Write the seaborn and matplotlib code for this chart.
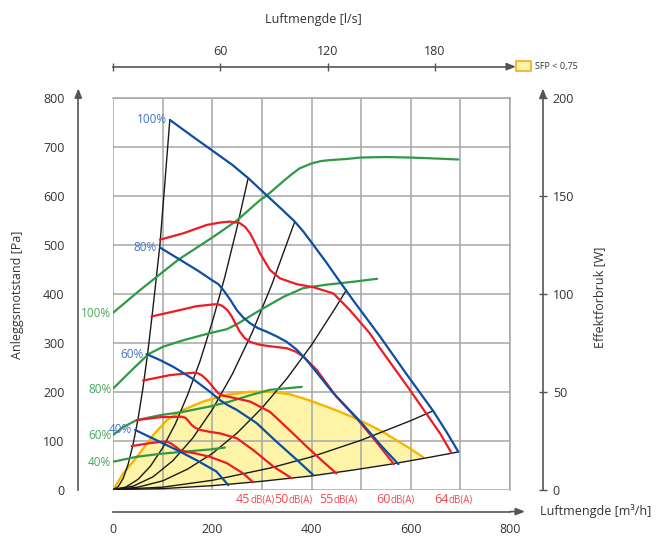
import numpy as np
import pandas as pd
import seaborn as sns
import matplotlib.pyplot as plt
from matplotlib.ticker import MultipleLocator, FixedLocator
from matplotlib.transforms import ScaledTranslation
from matplotlib.patches import Patch

# -------------------------------
# Data (x = m3/h, y = Pa)
# -------------------------------
# fan curves (blue) at 100/80/60/40 %
fan100_x = [114, 160, 200, 240, 272, 309, 340, 366, 383, 400, 430, 457, 483, 538, 590, 645, 672, 696]
fan100_y = [756, 722, 693, 664, 637, 602, 573, 548, 528, 505, 464, 425, 388, 313, 238, 161, 118, 77]
fan80_x = [94, 120, 141, 170, 198, 212, 222, 236, 249, 262, 276, 292, 309, 330, 350, 370, 390, 443, 501, 540, 575]
fan80_y = [495, 479, 466, 448, 429, 420, 408, 388, 367, 352, 340, 330, 323, 313, 302, 286, 265, 198, 136, 90, 52]
fan60_x = [67, 94, 121, 161, 195, 215, 232, 249, 289, 329, 370, 403]
fan60_y = [277, 265, 251, 226, 200, 183, 172, 163, 136, 98, 61, 30]
fan40_x = [44, 87, 128, 168, 208, 232]
fan40_y = [122, 101, 81, 60, 37, 9]
fan_labels = ["100%", "80%", "60%", "40%"]

# sound level curves (red)
snd64_x = [94, 141, 188, 215, 235, 255, 266, 276, 286, 296, 316, 336, 370, 403, 444, 477, 517, 535, 598, 659, 682]
snd64_y = [511, 524, 541, 546, 548, 545, 537, 524, 504, 483, 449, 432, 420, 414, 401, 367, 320, 293, 204, 115, 75]
snd60_x = [77, 121, 168, 205, 215, 222, 231, 239, 247, 255, 265, 276, 292, 309, 350, 368, 383, 410, 450, 494, 530, 566]
snd60_y = [354, 364, 375, 379, 378, 374, 366, 354, 338, 323, 310, 302, 297, 294, 289, 282, 272, 245, 190, 142, 98, 52]
snd55_x = [60, 114, 161, 170, 178, 187, 195, 204, 212, 222, 232, 276, 316, 356, 390, 420, 450]
snd55_y = [223, 234, 239, 238, 234, 226, 217, 206, 197, 192, 190, 180, 159, 121, 88, 60, 33]
snd50_x = [47, 94, 138, 145, 151, 158, 166, 175, 195, 215, 249, 282, 323, 360]
snd50_y = [142, 148, 149, 147, 141, 132, 126, 122, 118, 115, 105, 81, 47, 23]
snd45_x = [37, 74, 100, 108, 115, 121, 128, 134, 147, 161, 195, 229, 262, 282]
snd45_y = [89, 95, 98, 98, 95, 91, 86, 81, 77, 75, 67, 54, 33, 15]
snd_labels = ["64", "60", "55", "50", "45"]

# power curves (green), plotted on the Pa scale (200 W = 800 Pa)
pow100_x = [0, 54, 131, 202, 249, 296, 309, 340, 360, 376, 400, 420, 440, 470, 499, 550, 598, 650, 696]
pow100_y = [362, 408, 470, 517, 550, 592, 601, 628, 645, 657, 667, 672, 674, 676, 679, 680, 679, 677, 675]
pow80_x = [0, 40, 71, 100, 140, 195, 229, 249, 296, 343, 383, 430, 484, 532]
pow80_y = [207, 247, 277, 292, 305, 320, 328, 338, 367, 394, 412, 419, 425, 431]
pow60_x = [0, 20, 47, 94, 141, 195, 235, 276, 316, 380]
pow60_y = [112, 128, 142, 152, 159, 170, 180, 193, 204, 210]
pow40_x = [0, 47, 94, 148, 195, 225]
pow40_y = [57, 67, 73, 78, 82, 86]

# system curves (black)
sys1_x = [0, 10, 20, 30, 40, 50, 60, 70, 80, 94, 104, 114]
sys1_y = [0, 6, 23, 52, 93, 145, 209, 284, 371, 500, 627, 756]
sys2_x = [0, 25, 50, 75, 100, 125, 150, 175, 200, 225, 250, 272]
sys2_y = [0, 5, 21, 48, 86, 134, 194, 263, 344, 435, 538, 637]
sys3_x = [0, 40, 80, 120, 160, 200, 240, 280, 320, 366]
sys3_y = [0, 7, 26, 59, 105, 164, 236, 321, 420, 548]
sys4_x = [0, 50, 100, 150, 200, 250, 300, 350, 400, 447, 470]
sys4_y = [0, 5, 18, 42, 74, 116, 167, 227, 296, 370, 408]
sys5_x = [0, 100, 200, 316, 400, 500, 600, 645]
sys5_y = [0, 5, 19, 44, 67, 101, 141, 161]
sys6_x = [0, 100, 200, 300, 400, 484, 560, 638, 696]
sys6_y = [0, 2, 8, 17, 28, 40, 52, 66, 77]

# SFP < 0,75 area: upper edge, lower edge is sys6
sfp_x = [0, 20, 47, 81, 108, 141, 181, 229, 276, 316, 356, 397, 450, 497, 540, 571, 600, 625]
sfp_y = [0, 33, 66, 112, 142, 163, 180, 194, 200, 200, 195, 182, 162, 142, 120, 101, 83, 66]

# -------------------------------
# Styling
# -------------------------------
sns.set_theme(style="white")
plt.rcParams['font.family'] = ['Open Sans', 'DejaVu Sans']

BLUE, RED, GREEN, BLACK = "#0d4ea3", "#ec1c24", "#2f9a46", "#1a1a1a"
BLUE_T, RED_T, GREEN_T = "#3f74c2", "#ef4a50", "#4aa85c"
GRID, AXC, TXT = "#a6a6a6", "#555555", "#333333"
DPI = 100

fig = plt.figure(figsize=(6.56, 5.36), dpi=DPI)
ax = fig.add_axes([0.1727, 0.0866, 0.6047, 0.7299])
ax.set_xlim(0, 800)
ax.set_ylim(0, 800)

# SFP area
poly_x = sfp_x + [x for x in sys6_x[::-1] if x < sfp_x[-1]]
poly_y = sfp_y + [y for x, y in zip(sys6_x[::-1], sys6_y[::-1]) if x < sfp_x[-1]]
ax.fill(poly_x, poly_y, color="#fdf4a8", lw=0, zorder=1)
sns.lineplot(x=sfp_x, y=sfp_y, ax=ax, color="#f7b500", lw=1.7, sort=False, estimator=None, zorder=2,
             solid_joinstyle='round')

def draw(xs, ys, color, lw):
    sns.lineplot(x=xs, y=ys, ax=ax, color=color, lw=lw, sort=False, estimator=None, zorder=3,
                 solid_joinstyle='round', solid_capstyle='round')

for xs, ys in [(sys1_x, sys1_y), (sys2_x, sys2_y), (sys3_x, sys3_y),
               (sys4_x, sys4_y), (sys5_x, sys5_y), (sys6_x, sys6_y)]:
    draw(xs, ys, BLACK, 1.0)

pow_curves = [(pow100_x, pow100_y), (pow80_x, pow80_y), (pow60_x, pow60_y), (pow40_x, pow40_y)]
for (xs, ys), lbl in zip(pow_curves, fan_labels):
    draw(xs, ys, GREEN, 1.6)
    ax.annotate(lbl, xy=(xs[0], ys[0]), xytext=(-2, -1), textcoords='offset pixels',
                ha='right', va='center', color=GREEN_T, fontsize=8.5, annotation_clip=False)

snd_curves = [(snd64_x, snd64_y), (snd60_x, snd60_y), (snd55_x, snd55_y), (snd50_x, snd50_y), (snd45_x, snd45_y)]
for (xs, ys), lbl in zip(snd_curves, snd_labels):
    draw(xs, ys, RED, 1.6)
    ax.annotate(lbl, xy=(xs[-1], 0), xytext=(-3, -13), textcoords='offset pixels',
                ha='right', va='baseline', color=RED_T, fontsize=9, annotation_clip=False)
    ax.annotate("dB(A)", xy=(xs[-1], 0), xytext=(-3, -13), textcoords='offset pixels',
                ha='left', va='baseline', color=RED_T, fontsize=7, annotation_clip=False)

fan_curves = [(fan100_x, fan100_y), (fan80_x, fan80_y), (fan60_x, fan60_y), (fan40_x, fan40_y)]
for (xs, ys), lbl in zip(fan_curves, fan_labels):
    draw(xs, ys, BLUE, 1.6)
    ax.annotate(lbl, xy=(xs[0], ys[0]), xytext=(-3, 0), textcoords='offset pixels',
                ha='right', va='center', color=BLUE_T, fontsize=8.5, annotation_clip=False)

# grid and axes
ax.xaxis.set_major_locator(MultipleLocator(200))
ax.xaxis.set_minor_locator(MultipleLocator(100))
ax.yaxis.set_major_locator(MultipleLocator(100))
ax.set_axisbelow('line')
ax.grid(which='both', color=GRID, lw=1.1)
for s in ['top', 'right']:
    ax.spines[s].set_color(GRID)
    ax.spines[s].set_linewidth(1.1)
ax.spines['left'].set_position(('outward', 35 * 72 / DPI))
ax.spines['bottom'].set_position(('outward', 22 * 72 / DPI))
for s in ['left', 'bottom']:
    ax.spines[s].set_color(AXC)
    ax.spines[s].set_linewidth(1.2)
ax.tick_params(axis='both', which='major', direction='inout', length=6, width=1, color=AXC,
               labelsize=9, labelcolor=TXT)
ax.tick_params(axis='x', which='major', pad=5)
ax.tick_params(axis='y', which='major', pad=7)
ax.tick_params(axis='x', which='minor', length=0)
ax.set_xlabel("")
ax.set_ylabel("")

# right axis: power in W
sec_r = ax.secondary_yaxis(1 + 33 / 396.7, functions=(lambda p: p / 4, lambda w: w * 4))
sec_r.yaxis.set_major_locator(FixedLocator([0, 50, 100, 150, 200]))
sec_r.spines['right'].set_color(AXC)
sec_r.spines['right'].set_linewidth(1.2)
sec_r.tick_params(direction='inout', length=6, width=1, color=AXC, labelsize=9, labelcolor=TXT, pad=4)

# top axis: airflow in l/s
sec_t = ax.secondary_xaxis(1 + 31.7 / 391.2, functions=(lambda x: x / 3.6, lambda v: v * 3.6))
sec_t.xaxis.set_major_locator(FixedLocator([0, 60, 120, 180]))
sec_t.set_xticklabels(['', '60', '120', '180'])
sec_t.spines['top'].set_color(AXC)
sec_t.spines['top'].set_linewidth(1.2)
sec_t.tick_params(direction='inout', length=6, width=1, color=AXC, labelsize=9, labelcolor=TXT, pad=3)

def arrow(x, y, ox, oy, dx, dy):
    t0 = ax.transAxes + ScaledTranslation(ox / DPI, oy / DPI, fig.dpi_scale_trans)
    t1 = ax.transAxes + ScaledTranslation((ox + dx) / DPI, (oy + dy) / DPI, fig.dpi_scale_trans)
    ax.annotate('', xy=(x, y), xycoords=t1, xytext=(x, y), textcoords=t0,
                arrowprops=dict(arrowstyle='-|>,head_length=0.45,head_width=0.18', color=AXC,
                                lw=1.2, shrinkA=0, shrinkB=0), annotation_clip=False)

arrow(0, 1, -35, 0, 0, 10)       # left
arrow(1, 1, 33, 0, 0, 10)        # right
arrow(1, 0, 0, -22, 15, 0)       # bottom
arrow(1, 1, 0, 31.7, 6, 0)       # top

# axis titles
fig.text(313 / 656, 1 - 19 / 536, "Luftmengde [l/s]", ha='center', va='center', fontsize=9, color=TXT)
fig.text(18 / 656, 1 - 295 / 536, "Anleggsmotstand [Pa]", rotation=90, ha='center', va='center',
         fontsize=9, color=TXT)
fig.text(600 / 656, 1 - 297 / 536, "Effektforbruk [W]", rotation=90, ha='center', va='center',
         fontsize=9, color=TXT)
fig.text(540 / 656, 1 - 511 / 536, "Luftmengde [m³/h]", ha='left', va='center', fontsize=9, color=TXT)

# SFP legend
fig.legend(handles=[Patch(facecolor="#fdf4a8", edgecolor="#f7a823", lw=1.2)], labels=["SFP < 0,75"],
           loc='center left', bbox_to_anchor=(516 / 656, 1 - 66 / 536), frameon=False,
           fontsize=6.5, handlelength=1.7, handleheight=1.3, handletextpad=0.4, borderpad=0,
           borderaxespad=0, labelcolor=TXT)

plt.savefig("out.png", dpi=DPI)
plt.close()
